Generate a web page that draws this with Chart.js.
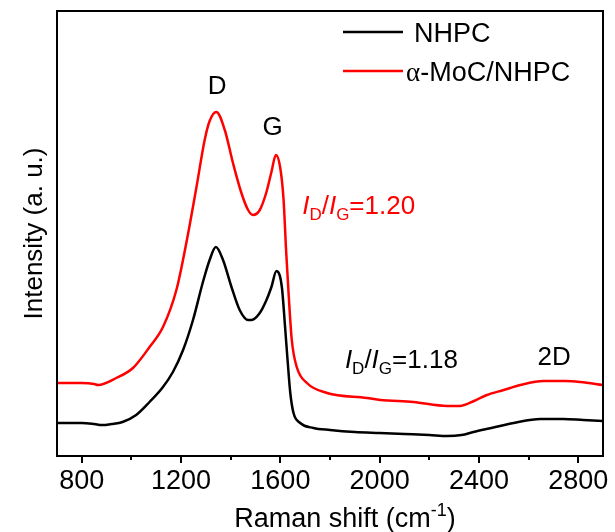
<!DOCTYPE html>
<html>
<head>
<meta charset="utf-8">
<script src="https://cdn.jsdelivr.net/npm/chart.js@4.4.0/dist/chart.umd.min.js"></script>
<style>
  body { margin: 0; background: #fff; }
</style>
</head>
<body>
<canvas id="ramanChart" width="615" height="532"></canvas>
<script>
const FONT = "'Liberation Sans', Arial, sans-serif";
const SERIF = "'Liberation Serif', 'Times New Roman', serif";

// Raman shift (cm-1) / intensity (a. u.)
const nhpcShift = [700, 750, 800, 850, 880, 920, 964, 1019, 1073, 1127, 1167, 1208, 1248, 1288, 1315, 1340,
  1369, 1403, 1436, 1470, 1484, 1517, 1544, 1564, 1584, 1606, 1619, 1629, 1640, 1653, 1680, 1733,
  1800, 1900, 2000, 2100, 2200, 2272, 2330, 2378, 2450, 2540, 2648, 2740, 2820, 2900];
const nhpcIntensity = [33, 33, 33, 32, 31, 32, 34, 41, 54, 69, 84, 106, 136, 174, 196, 209,
  196, 169, 146, 136, 136, 143, 156, 169, 185, 169, 129, 96, 63, 43, 33, 28,
  26, 24, 23, 22, 21, 20, 21, 24, 28, 33, 37, 37, 36, 35];

const mocShift = [700, 750, 800, 850, 865, 939, 1006, 1073, 1127, 1181, 1221, 1262, 1295, 1315, 1342,
  1376, 1409, 1443, 1470, 1490, 1517, 1544, 1564, 1582, 1599, 1613, 1623, 1633, 1646, 1666, 1707, 1788,
  1949, 2003, 2136, 2272, 2323, 2380, 2432, 2500, 2567, 2660, 2750, 2809, 2900];
const mocIntensity = [73, 73, 73, 72, 71, 78, 88, 109, 129, 166, 213, 269, 316, 335, 344,
  326, 293, 263, 246, 241, 246, 264, 284, 301, 289, 256, 206, 163, 116, 89, 73, 63,
  58, 56, 54, 50, 50, 55, 61, 66, 71, 75, 75, 74, 71];

const majorTicks = [800, 1200, 1600, 2000, 2400, 2800];
const minorTicks = [1000, 1400, 1800, 2200, 2600];

const seriesNames = ["NHPC", "\u03b1-MoC/NHPC"];
const seriesColors = ["#000000", "#ff0000"];

function toPoints(xs, ys) {
  return xs.map((x, i) => ({ x: x, y: ys[i] }));
}

// text with italic / sub / sup runs on one baseline
function drawRich(ctx, parts, x, y, size, color, align) {
  const runFont = p => (p.it ? "italic " : "") + Math.round(p.sub || p.sup ? size * 0.65 : size) + "px " + (p.serif ? SERIF : FONT);
  let total = 0;
  parts.forEach(p => { ctx.font = runFont(p); total += ctx.measureText(p.t).width; });
  let cx = align === "center" ? x - total / 2 : x;
  ctx.fillStyle = color;
  ctx.textBaseline = "alphabetic";
  ctx.textAlign = "left";
  parts.forEach(p => {
    ctx.font = runFont(p);
    let dy = 0;
    if (p.sub) dy = size * 0.22;
    if (p.sup) dy = -size * 0.4;
    ctx.fillText(p.t, cx, y + dy);
    cx += ctx.measureText(p.t).width;
  });
}

const decorations = {
  id: "decorations",
  afterDraw(chart) {
    const ctx = chart.ctx;
    const area = chart.chartArea;
    const xs = chart.scales.x;
    const ys = chart.scales.y;
    ctx.save();

    // frame
    ctx.strokeStyle = "#000";
    ctx.lineWidth = 2;
    ctx.strokeRect(area.left, area.top, area.right - area.left, area.bottom - area.top);

    // minor ticks
    minorTicks.forEach(v => {
      const px = Math.round(xs.getPixelForValue(v));
      ctx.beginPath();
      ctx.moveTo(px, area.bottom);
      ctx.lineTo(px, area.bottom + 4);
      ctx.stroke();
    });

    // legend
    chart.data.datasets.forEach((ds, i) => {
      const ly = [32, 71][i];
      ctx.strokeStyle = ds.borderColor;
      ctx.lineWidth = 2.5;
      ctx.beginPath();
      ctx.moveTo(343, ly);
      ctx.lineTo(403, ly);
      ctx.stroke();
      const label = ds.label.charAt(0) === "\u03b1"
        ? [{ t: "\u03b1", serif: true }, { t: ds.label.slice(1) }]
        : [{ t: ds.label }];
      drawRich(ctx, label, i === 0 ? 414 : 406, ly + 10, 27, "#000", "left");
    });

    // peak labels
    const at = (vx, vy) => [xs.getPixelForValue(vx), ys.getPixelForValue(vy)];
    let p = at(1345, 362);
    drawRich(ctx, [{ t: "D" }], p[0], p[1], 26, "#000", "center");
    p = at(1569, 321);
    drawRich(ctx, [{ t: "G" }], p[0], p[1], 26, "#000", "center");
    p = at(2703, 91);
    drawRich(ctx, [{ t: "2D" }], p[0], p[1], 26, "#000", "center");

    const ratio = val => [{ t: "I", it: true }, { t: "D", sub: true }, { t: "/" },
      { t: "I", it: true }, { t: "G", sub: true }, { t: "=" + val }];
    p = at(1688, 242);
    drawRich(ctx, ratio("1.20"), p[0], p[1], 26, "#ff0000", "left");
    p = at(1860, 88);
    drawRich(ctx, ratio("1.18"), p[0], p[1], 26, "#000", "left");

    // x axis title
    drawRich(ctx, [{ t: "Raman shift (cm" }, { t: "-1", sup: true }, { t: ")" }],
      (area.left + area.right) / 2 + 15, 527, 27, "#000", "center");

    ctx.restore();
  }
};

const ctx = document.getElementById("ramanChart").getContext("2d");
const chartInstance = new Chart(ctx, {
  type: "line",
  data: {
    datasets: [
      {
        label: seriesNames[0],
        data: toPoints(nhpcShift, nhpcIntensity),
        borderColor: seriesColors[0],
        backgroundColor: seriesColors[0]
      },
      {
        label: seriesNames[1],
        data: toPoints(mocShift, mocIntensity),
        borderColor: seriesColors[1],
        backgroundColor: seriesColors[1]
      }
    ]
  },
  options: {
    animation: false,
    responsive: false,
    devicePixelRatio: 1,
    layout: { padding: { top: 11, right: 12, left: 0, bottom: 0 } },
    elements: {
      point: { radius: 0 },
      line: { borderWidth: 2.5, cubicInterpolationMode: "monotone" }
    },
    plugins: {
      legend: { display: false },
      tooltip: { enabled: false }
    },
    scales: {
      x: {
        type: "linear",
        min: 700,
        max: 2900,
        afterBuildTicks: axis => { axis.ticks = majorTicks.map(v => ({ value: v })); },
        afterFit: scale => { scale.height = 76; },
        ticks: {
          autoSkip: false,
          maxRotation: 0,
          padding: 2,
          color: "#000",
          font: { family: FONT, size: 27 },
          callback: v => String(v)
        },
        grid: { drawOnChartArea: false, drawTicks: true, tickLength: 7, color: "#000", lineWidth: 2 },
        border: { display: false }
      },
      y: {
        min: 0,
        max: 445,
        afterFit: scale => { scale.width = 57; },
        ticks: { display: false },
        grid: { display: false },
        border: { display: false },
        title: {
          display: true,
          text: "Intensity (a. u.)",
          color: "#000",
          font: { family: FONT, size: 26 },
          padding: { top: 19, bottom: 0 }
        }
      }
    }
  },
  plugins: [decorations]
});
</script>
</body>
</html>
